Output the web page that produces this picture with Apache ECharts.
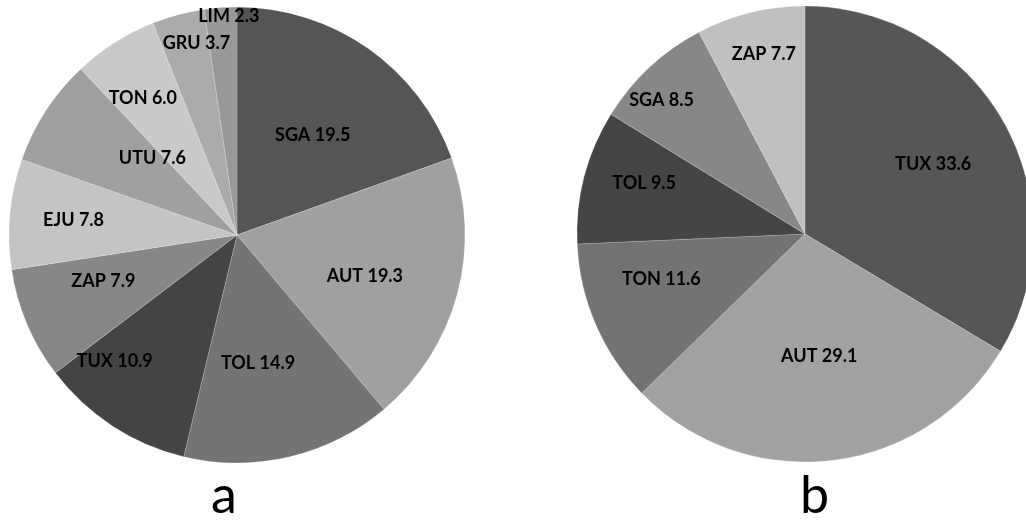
<!DOCTYPE html>
<html>
<head>
<meta charset="utf-8">
<script src="https://cdn.jsdelivr.net/npm/echarts@6/dist/echarts.min.js"></script>
<style>
  html, body { margin: 0; padding: 0; background: #fff; }
  #chart { width: 1026px; height: 525px; }
</style>
</head>
<body>
<div id="chart"></div>
<script>
// Panel a
const namesA = ['SGA', 'AUT', 'TOL', 'TUX', 'ZAP', 'EJU', 'UTU', 'TON', 'GRU', 'LIM'];
const valuesA = [19.5, 19.3, 14.9, 10.9, 7.9, 7.8, 7.6, 6.0, 3.7, 2.3];
// Panel b
const namesB = ['TUX', 'AUT', 'TON', 'TOL', 'SGA', 'ZAP'];
const valuesB = [33.6, 29.1, 11.6, 9.5, 8.5, 7.7];

// Slice fills
const colorsA = ['#555555', '#a0a0a0', '#747474', '#444444', '#878787', '#c4c4c4', '#a0a0a0', '#c9c9c9', '#ababab', '#989898'];
const colorsB = ['#565656', '#a1a1a1', '#737373', '#454545', '#878787', '#c0c0c0'];

// Label placement: fraction of radius and angular shift (deg) from slice bisector
const labelRadA = [0.55, 0.59, 0.57, 0.77, 0.62, 0.72, 0.50, 0.73, 0.86, 0.96];
const labelShiftA = [2, 3, 4, 11, 4, 0, 9, -2, 3, 2];
const labelRadB = [0.64, 0.54, 0.66, 0.74, 0.86, 0.81];
const labelShiftB = [1, 0, 6, 3, -4, 1];

const R = 228;
const centerA = [237, 235];
const centerB = [805, 234];

function placer(values, center, rad, shift) {
  const total = values.reduce((s, v) => s + v, 0);
  const mids = [];
  let acc = 0;
  values.forEach(v => { mids.push((acc + v / 2) / total * 360); acc += v; });
  return function (params) {
    const i = params.dataIndex;
    const a = (mids[i] + shift[i]) * Math.PI / 180;
    const r = R * rad[i];
    return {
      x: center[0] + r * Math.sin(a),
      y: center[1] - r * Math.cos(a),
      align: 'center',
      verticalAlign: 'middle'
    };
  };
}

function pieSeries(names, values, colors, center, rad, shift) {
  return {
    type: 'pie',
    center: center,
    radius: [0, R],
    startAngle: 90,
    clockwise: true,
    silent: true,
    animation: false,
    itemStyle: { borderColor: 'rgba(255,255,255,0.3)', borderWidth: 0.6 },
    label: {
      show: true,
      position: 'inside',
      formatter: p => p.name + ' ' + p.value.toFixed(1),
      fontFamily: 'Lato',
      fontWeight: 'bold',
      fontSize: 18,
      color: '#000'
    },
    labelLine: { show: false },
    labelLayout: placer(values, center, rad, shift),
    data: names.map((n, i) => ({ name: n, value: values[i], itemStyle: { color: colors[i] } }))
  };
}

const chart = echarts.init(document.getElementById('chart'), null, { renderer: 'canvas' });
chart.setOption({
  backgroundColor: '#ffffff',
  graphic: [
    { type: 'text', left: 211, top: 470, style: { text: 'a', fontFamily: 'Lato', fontSize: 52, fill: '#000' } },
    { type: 'text', left: 800, top: 470, style: { text: 'b', fontFamily: 'Lato', fontSize: 52, fill: '#000' } }
  ],
  series: [
    pieSeries(namesA, valuesA, colorsA, centerA, labelRadA, labelShiftA),
    pieSeries(namesB, valuesB, colorsB, centerB, labelRadB, labelShiftB)
  ]
});
</script>
</body>
</html>
